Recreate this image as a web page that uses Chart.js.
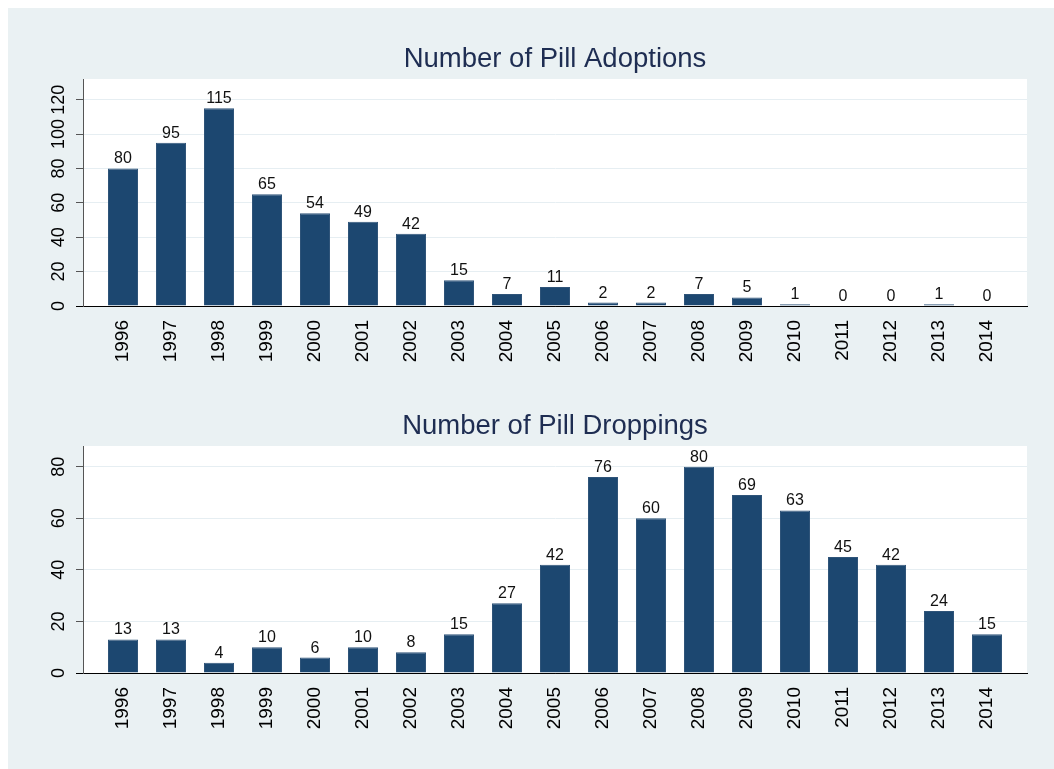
<!DOCTYPE html>
<html>
<head>
<meta charset="utf-8">
<script src="https://cdn.jsdelivr.net/npm/chart.js@4"></script>
<style>
  body { margin: 0; background: #ffffff; }
  #wrap { position: relative; width: 1054px; height: 769px; overflow: hidden; }
  #bg { position: absolute; left: 8px; top: 8px; right: 0; bottom: 0; background: #eaf1f3; }
  .panel { position: absolute; left: 0; width: 1054px; height: 367px; }
</style>
</head>
<body>
<div id="wrap">
  <div id="bg"></div>
  <div class="panel" style="top:0px"><canvas id="adoptCanvas" width="1054" height="367"></canvas></div>
  <div class="panel" style="top:367px"><canvas id="dropCanvas" width="1054" height="367"></canvas></div>
</div>
<script>
// data
const years = [1996, 1997, 1998, 1999, 2000, 2001, 2002, 2003, 2004, 2005,
               2006, 2007, 2008, 2009, 2010, 2011, 2012, 2013, 2014];
const adoptions = [80, 95, 115, 65, 54, 49, 42, 15, 7, 11, 2, 2, 7, 5, 1, 0, 0, 1, 0];
const droppings = [13, 13, 4, 10, 6, 10, 8, 15, 27, 42, 76, 60, 80, 69, 63, 45, 42, 24, 15];
const adoptTicks = [0, 20, 40, 60, 80, 100, 120];
const dropTicks = [0, 20, 40, 60, 80];

const barColor = '#1c4770';
const gridColor = '#e6eef2';
const fontFamily = '"Liberation Sans", Arial, Helvetica, sans-serif';

// white plot region behind the bars
const plotBg = {
    id: 'plotBg',
    beforeDraw(chart) {
        const a = chart.chartArea;
        const ctx = chart.ctx;
        ctx.save();
        ctx.fillStyle = '#ffffff';
        ctx.fillRect(a.left, a.top, a.right - a.left, a.bottom - a.top);
        ctx.restore();
    }
};

// numbers on top of each bar
const barValues = {
    id: 'barValues',
    afterDatasetsDraw(chart) {
        const ctx = chart.ctx;
        const meta = chart.getDatasetMeta(0);
        const data = chart.data.datasets[0].data;
        ctx.save();
        ctx.fillStyle = '#111111';
        ctx.font = '16px ' + fontFamily;
        ctx.textAlign = 'center';
        ctx.textBaseline = 'alphabetic';
        meta.data.forEach(function (bar, i) {
            ctx.fillText(String(data[i].y), bar.x, bar.y - 5);
        });
        ctx.restore();
    }
};

function makeChart(canvasId, title, values, ticks, yMax, yLabelPad) {
    const points = years.map(function (yr, i) { return {x: yr, y: values[i]}; });
    return new Chart(document.getElementById(canvasId), {
        type: 'bar',
        data: {
            datasets: [{
                data: points,
                backgroundColor: barColor,
                borderColor: '#2f5479',
                borderWidth: 1,
                borderSkipped: 'bottom',
                categoryPercentage: 1,
                barPercentage: 0.625
            }]
        },
        options: {
            responsive: false,
            animation: false,
            events: [],
            layout: { padding: { left: 0, right: 27, top: 0, bottom: 0 } },
            plugins: {
                legend: { display: false },
                tooltip: { enabled: false },
                title: {
                    display: true,
                    text: title,
                    fullSize: false,
                    color: '#1e2d52',
                    font: { family: fontFamily, size: 27.5, weight: 'normal', lineHeight: 1.2 },
                    padding: { top: 43, bottom: 3 }
                }
            },
            scales: {
                x: {
                    type: 'linear',
                    offset: false,
                    min: 1995.1667,
                    max: 2014.8333,
                    afterBuildTicks: function (s) { s.ticks = years.map(function (v) { return {value: v}; }); },
                    afterFit: function (s) { s.height = 61; },
                    grid: { display: false, offset: false },
                    border: { display: true, color: '#000000', width: 1 },
                    ticks: {
                        autoSkip: false,
                        minRotation: 90,
                        maxRotation: 90,
                        padding: 6,
                        color: '#000000',
                        font: { family: fontFamily, size: 19 },
                        callback: function (v) { return String(v); }
                    }
                },
                y: {
                    min: 0,
                    max: yMax,
                    afterBuildTicks: function (s) { s.ticks = ticks.map(function (v) { return {value: v}; }); },
                    afterFit: function (s) { s.width = 83; },
                    grid: {
                        color: function (c) { return c.tick && c.tick.value === 0 ? '#000000' : gridColor; },
                        tickColor: function (c) { return c.tick && c.tick.value === 0 ? '#000000' : '#555555'; },
                        lineWidth: 1,
                        tickLength: 7,
                        drawTicks: true
                    },
                    border: { display: true, color: '#555555', width: 1 },
                    ticks: {
                        autoSkip: false,
                        minRotation: 90,
                        maxRotation: 90,
                        crossAlign: 'center',
                        padding: yLabelPad,
                        color: '#000000',
                        font: { family: fontFamily, size: 18 }
                    }
                }
            }
        },
        plugins: [plotBg, barValues]
    });
}

makeChart('adoptCanvas', 'Number of Pill Adoptions', adoptions, adoptTicks, 132, 2);
makeChart('dropCanvas', 'Number of Pill Droppings', droppings, dropTicks, 88, 7);
</script>
</body>
</html>
